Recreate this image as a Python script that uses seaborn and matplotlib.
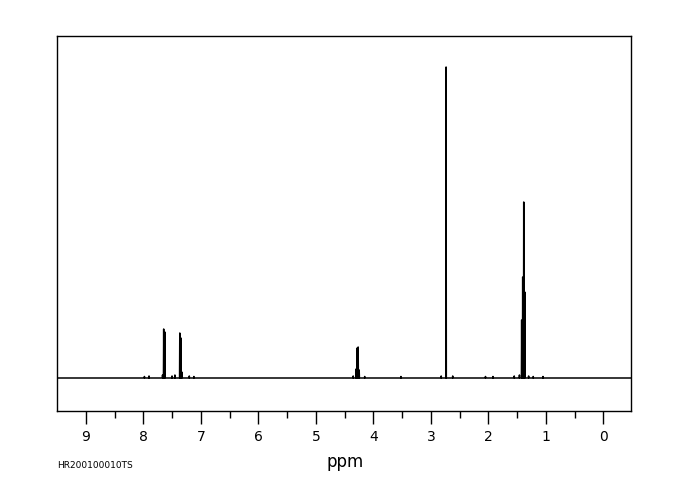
import matplotlib
matplotlib.use("Agg")
import matplotlib.pyplot as plt
import seaborn as sns
import pandas as pd

# ---- data ----
peak_ppm = [7.98, 7.90, 7.665, 7.645, 7.625, 7.50, 7.45, 7.365, 7.345, 7.33, 7.20, 7.12,
            4.35, 4.300, 4.282, 4.264, 4.246, 4.15, 3.52, 2.82, 2.735, 2.62,
            2.05, 1.92, 1.55, 1.46, 1.421, 1.403, 1.385, 1.367, 1.30, 1.22, 1.05]
peak_height = [1.5, 2, 3, 49, 46, 2, 3, 45, 40, 6, 2, 1.5,
               2, 9, 30, 31, 8, 1.5, 1.5, 2, 311, 2,
               1.5, 1.5, 2, 3, 58, 101, 176, 86, 2, 1.5, 1.5]
x_ticks = [9, 8, 7, 6, 5, 4, 3, 2, 1, 0]
x_minor = [8.5, 7.5, 6.5, 5.5, 4.5, 3.5, 2.5, 1.5, 0.5]
x_label = "ppm"
footer = "HR200100010TS"

# ---- build trace (spikes on a flat baseline) ----
hw = 0.004
xs, ys = [9.5], [0.0]
for p, h in sorted(zip(peak_ppm, peak_height), key=lambda t: -t[0]):
    xs += [p + hw, p, p - hw]
    ys += [0.0, h, 0.0]
xs.append(-0.48)
ys.append(0.0)
df = pd.DataFrame({"ppm": xs, "intensity": ys})

sns.set_style("white")
plt.rcParams["font.family"] = ["DejaVu Sans"]
plt.rcParams["text.color"] = "black"

fig = plt.figure(figsize=(6.8, 5.0), dpi=100)
ax = fig.add_axes([57 / 680, 89 / 500, 574 / 680, 375 / 500])
sns.lineplot(data=df, x="ppm", y="intensity", sort=False, estimator=None,
             color="black", linewidth=1.1, ax=ax)

ax.set_xlim(9.5, -0.48)
ax.set_ylim(-33, 342)
ax.set_xticks(x_ticks)
ax.set_xticklabels([str(t) for t in x_ticks])
ax.set_xticks(x_minor, minor=True)
ax.set_yticks([])
ax.tick_params(axis="x", which="major", direction="out", length=9, width=1,
               pad=5, labelsize=10, color="black", labelcolor="black", bottom=True)
ax.tick_params(axis="x", which="minor", direction="out", length=5, width=1,
               color="black", bottom=True)
ax.set_xlabel("")
ax.set_ylabel("")
for s in ax.spines.values():
    s.set_visible(True)
    s.set_color("black")
    s.set_linewidth(1.0)

fig.text(345 / 680, 1 - 462 / 500, x_label, ha="center", va="center", fontsize=12,
         color="black")
fig.text(57 / 680, 1 - 465 / 500, footer, ha="left", va="center", fontsize=6.5,
         color="black")

fig.savefig("out.png", dpi=100, facecolor="white")
